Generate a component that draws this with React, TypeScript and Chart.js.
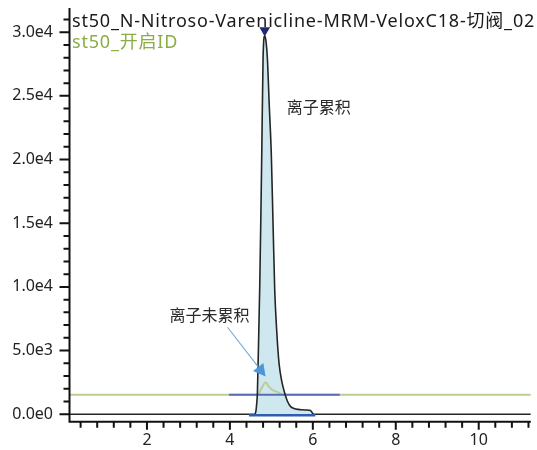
import React, { useEffect, useRef } from 'react';
import { Chart, registerables } from 'chart.js';

Chart.register(...registerables);

// ---- axis ranges and ticks ----
const timeMin = 0.12;
const timeMax = 11.256;
const valueMin = -530;
const valueMax = 31900;
const xTickValues = [2, 4, 6, 8, 10];
const yTickValues = [0, 5000, 10000, 15000, 20000, 25000, 30000];
const xMinorStep = 0.4;
const yMinorStep = 1000;

// ---- MRM trace (black), peak region ----
const peakTimes = [4.6, 4.63, 4.645, 4.663, 4.69, 4.72, 4.745, 4.768, 4.8, 4.84, 4.87, 4.903, 4.95, 4.999, 5.04, 5.081, 5.13, 5.184, 5.25, 5.321, 5.39, 5.465, 5.55, 5.65, 5.75, 5.85, 5.94, 6.0, 6.03];
const peakValues = [0, 300, 800, 1670, 5500, 10140, 15200, 20370, 27990, 29720, 29300, 27990, 24200, 20370, 15000, 9764, 6500, 4030, 2600, 1673, 1000, 597, 450, 380, 350, 330, 300, 60, 0];

// ---- "开启ID" trace (green) ----
const idTimes = [0.12, 4.68, 4.704, 4.78, 4.865, 4.93, 5.023, 5.143, 5.225, 5.3, 11.256];
const idValues = [1540, 1540, 1650, 2150, 2510, 2200, 1910, 1750, 1600, 1540, 1540];

// ---- integration baselines ----
const idBaselineTimes = [3.98, 6.65];
const idBaselineValues = [1530, 1530];
const integrationTimes = [4.46, 6.06];
const integrationValues = [-70, -70];

// ---- apex marker ----
const apexTimes = [4.84];
const apexValues = [30150];

// ---- texts ----
const traceTitle = 'st50_N-Nitroso-Varenicline-MRM-VeloxC18-切阀_02';
const idTitle = 'st50_开启ID';
const accumLabel = '离子累积';
const nonAccumLabel = '离子未累积';
const accumLabelPos = { t: 6.144, v: 24160 };
const nonAccumLabelPos = { t: 3.511, v: 7800 };
const arrowFrom = { t: 3.943, v: 6834 };
const arrowTo = { t: 4.86, v: 2969 };

const FONT = '"Noto Sans", "Noto Sans CJK SC", sans-serif';

const toPts = (xs: number[], ys: number[]) => xs.map((x, i) => ({ x, y: ys[i] }));

const fmtExp = (v: number) => v.toExponential(1).replace('e+', 'e');

const axesPlugin = {
  id: 'axesPlugin',
  afterDraw(chart: any) {
    const { ctx, chartArea, scales } = chart;
    const xs = scales.x;
    const ys = scales.y;
    ctx.save();
    ctx.strokeStyle = '#111';
    ctx.lineWidth = 2;
    const axX = chartArea.left + 0.5;
    const axY = chartArea.bottom + 0.7;
    ctx.beginPath();
    ctx.moveTo(axX, chartArea.top);
    ctx.lineTo(axX, axY + 1);
    ctx.moveTo(axX - 1, axY);
    ctx.lineTo(chartArea.right, axY);
    ctx.stroke();
    ctx.beginPath();
    for (let v = Math.ceil(valueMin / yMinorStep) * yMinorStep; v <= valueMax; v += yMinorStep) {
      const y = ys.getPixelForValue(v);
      const major = yTickValues.includes(v);
      ctx.moveTo(axX - (major ? 10 : 6), y);
      ctx.lineTo(axX, y);
    }
    for (let k = Math.ceil(timeMin / xMinorStep); k * xMinorStep <= timeMax; k++) {
      const t = k * xMinorStep;
      const x = xs.getPixelForValue(t);
      const major = xTickValues.some((m) => Math.abs(m - t) < 1e-6);
      ctx.moveTo(x, axY);
      ctx.lineTo(x, axY + (major ? 8 : 6));
    }
    ctx.stroke();
    ctx.restore();
  },
};

const textPlugin = {
  id: 'textPlugin',
  afterDatasetsDraw(chart: any) {
    const { ctx, chartArea, scales } = chart;
    const xs = scales.x;
    const ys = scales.y;
    ctx.save();
    ctx.textBaseline = 'alphabetic';
    ctx.textAlign = 'left';
    ctx.font = '18px ' + FONT;
    ctx.letterSpacing = '0.8px';
    ctx.fillStyle = '#1a1a1a';
    ctx.fillText(traceTitle, chartArea.left + 3, chartArea.top + 18.7);
    ctx.fillStyle = '#8aad45';
    ctx.fillText(idTitle, chartArea.left + 3, chartArea.top + 40.3);
    ctx.letterSpacing = '0px';

    ctx.font = '16px "Noto Sans CJK SC", ' + FONT;
    ctx.fillStyle = '#2a2a2a';
    ctx.textAlign = 'center';
    ctx.textBaseline = 'middle';
    ctx.fillText(accumLabel, xs.getPixelForValue(accumLabelPos.t), ys.getPixelForValue(accumLabelPos.v));
    ctx.fillText(nonAccumLabel, xs.getPixelForValue(nonAccumLabelPos.t), ys.getPixelForValue(nonAccumLabelPos.v));

    const x1 = xs.getPixelForValue(arrowFrom.t);
    const y1 = ys.getPixelForValue(arrowFrom.v);
    const x2 = xs.getPixelForValue(arrowTo.t);
    const y2 = ys.getPixelForValue(arrowTo.v);
    const ang = Math.atan2(y2 - y1, x2 - x1);
    const headLen = 12;
    const headHalf = 6.5;
    const bx = x2 - Math.cos(ang) * headLen;
    const by = y2 - Math.sin(ang) * headLen;
    ctx.strokeStyle = 'rgb(110,170,222)';
    ctx.lineWidth = 1.1;
    ctx.beginPath();
    ctx.moveTo(x1, y1);
    ctx.lineTo(bx, by);
    ctx.stroke();
    ctx.fillStyle = 'rgb(78,150,215)';
    ctx.beginPath();
    ctx.moveTo(x2, y2);
    ctx.lineTo(bx - Math.sin(ang) * headHalf, by + Math.cos(ang) * headHalf);
    ctx.lineTo(bx + Math.sin(ang) * headHalf, by - Math.cos(ang) * headHalf);
    ctx.closePath();
    ctx.fill();
    ctx.restore();
  },
};

export default function App() {
  const ref = useRef<HTMLCanvasElement | null>(null);
  useEffect(() => {
    if (!ref.current) return;
    const peakPts = toPts(peakTimes, peakValues);
    const tracePts = [{ x: timeMin, y: 0 }, ...peakPts, { x: timeMax, y: 0 }];
    const line = (extra: any) => ({
      showLine: true,
      pointRadius: 0,
      pointHoverRadius: 0,
      fill: false,
      tension: 0,
      ...extra,
    });
    const chart = new Chart(ref.current, {
      type: 'scatter',
      data: {
        datasets: [
          line({ data: peakPts, borderWidth: 0, borderColor: 'rgba(0,0,0,0)', backgroundColor: 'rgb(207,232,240)', fill: 'origin', order: 6, cubicInterpolationMode: 'monotone' }),
          line({ data: toPts(idTimes, idValues), borderColor: 'rgb(188,205,148)', borderWidth: 2, order: 5, cubicInterpolationMode: 'monotone' }),
          line({ data: toPts(idBaselineTimes, idBaselineValues), borderColor: 'rgb(88,108,182)', borderWidth: 2, order: 4 }),
          line({ data: tracePts, borderColor: '#252525', borderWidth: 1.6, order: 3, cubicInterpolationMode: 'monotone' }),
          line({ data: toPts(integrationTimes, integrationValues), borderColor: 'rgb(48,92,178)', borderWidth: 2.5, order: 2 }),
          {
            data: toPts(apexTimes, apexValues),
            showLine: false,
            pointStyle: 'triangle',
            rotation: 180,
            pointRadius: 6.2,
            pointHoverRadius: 6.2,
            backgroundColor: '#1f2b6e',
            borderColor: '#1f2b6e',
            borderWidth: 0,
            order: 1,
          },
        ],
      },
      options: {
        animation: false,
        responsive: false,
        events: [],
        layout: { padding: { top: 8, right: 4, left: 0, bottom: 0 } },
        plugins: { legend: { display: false }, tooltip: { enabled: false }, title: { display: false } },
        scales: {
          x: {
            type: 'linear',
            min: timeMin,
            max: timeMax,
            grid: { display: false, drawTicks: true, tickLength: 8 },
            border: { display: false },
            afterBuildTicks: (s: any) => {
              s.ticks = xTickValues.map((v) => ({ value: v }));
            },
            afterFit: (s: any) => {
              s.height = 29;
              s.paddingLeft = 0;
              s.paddingRight = 0;
            },
            ticks: {
              autoSkip: false,
              maxRotation: 0,
              padding: 2,
              color: '#222',
              font: { family: FONT, size: 16 },
              callback: (v: any) => String(v),
            },
          },
          y: {
            type: 'linear',
            min: valueMin,
            max: valueMax,
            grid: { display: false, drawTicks: true, tickLength: 8 },
            border: { display: false },
            afterBuildTicks: (s: any) => {
              s.ticks = yTickValues.map((v) => ({ value: v }));
            },
            afterFit: (s: any) => {
              s.width = 69;
              s.paddingTop = 0;
              s.paddingBottom = 0;
            },
            ticks: {
              autoSkip: false,
              padding: 8,
              color: '#222',
              font: { family: FONT, size: 16 },
              callback: (v: any) => fmtExp(Number(v)),
            },
          },
        },
      },
      plugins: [axesPlugin, textPlugin],
    });
    return () => chart.destroy();
  }, []);
  return (
    <div style={{ position: 'absolute', left: 0, top: 0, width: 537, height: 450, background: '#fff' }}>
      <canvas ref={ref} width={537} height={450} style={{ display: 'block' }} />
    </div>
  );
}
